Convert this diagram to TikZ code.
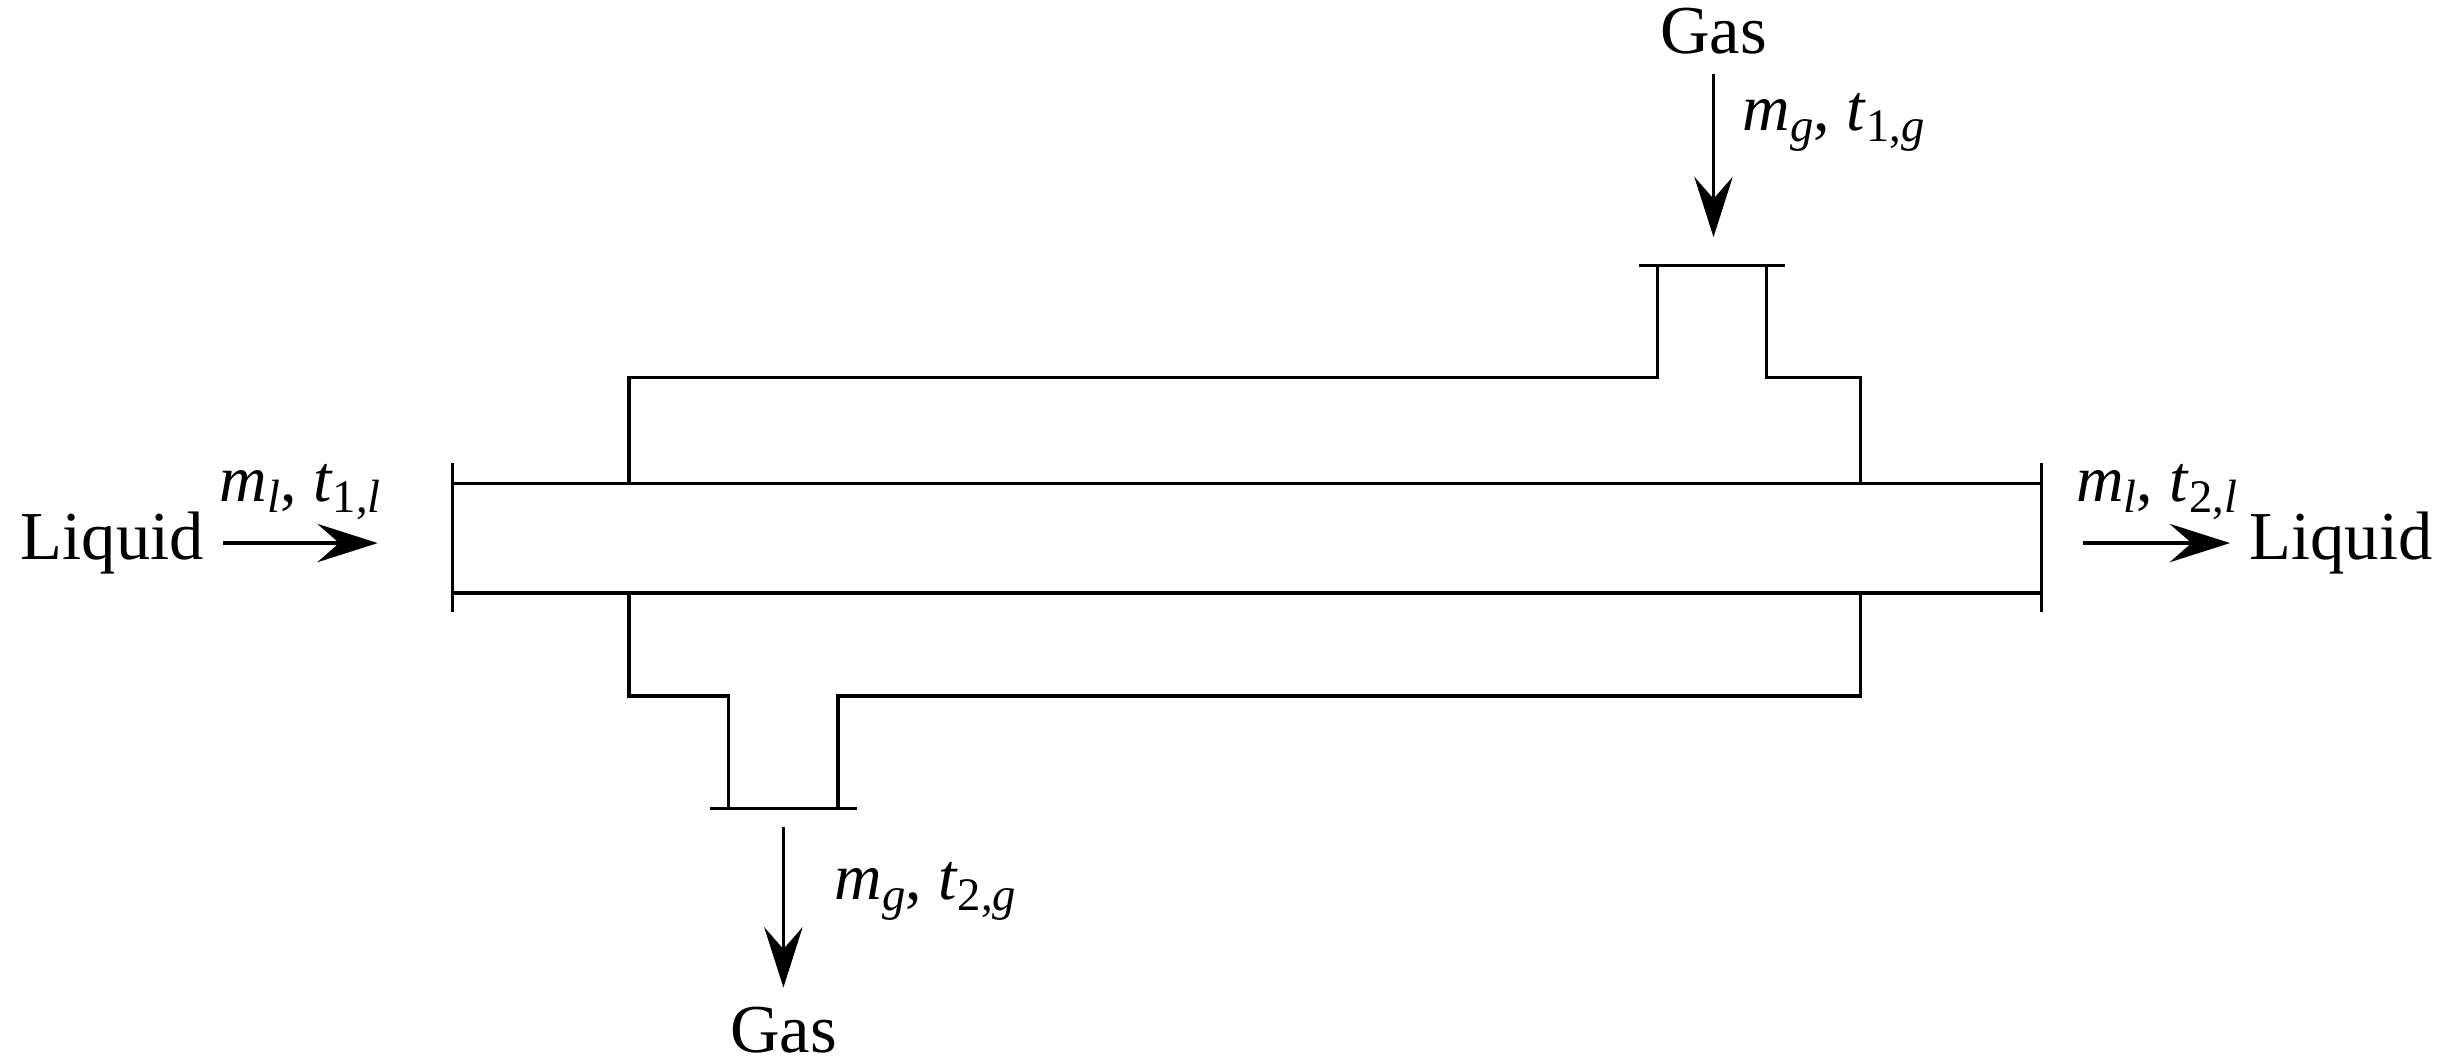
\documentclass[tikz,border=0pt]{standalone}
\usepackage{fontspec}
\setmainfont{Liberation Serif}
\usetikzlibrary{arrows.meta,positioning}
\newcommand{\lowsub}[1]{\raisebox{-0.35ex}{\fontsize{8.5}{10}\selectfont #1}}
\newcommand{\flow}[3]{\textit{#1}\lowsub{\textit{#2}}, \textit{t}\lowsub{#3}}
\tikzset{
	every node/.style={font=\fontsize{12.5}{14}\selectfont},
	label text/.style={font=\fontsize{12}{14}\selectfont, inner sep=1pt},
	wall/.style={line width=0.6pt},
	stream/.style={-{Stealth[length=11pt,width=7pt,inset=4pt]},line width=0.6pt}
}
\begin{document}
\begin{tikzpicture}[x=0.01cm,y=-0.01cm]
	\useasboundingbox (0,0) rectangle (1568,680);
	% inner tube with end caps
	\draw[wall] (290,310) -- (1308,310) (290,380) -- (1308,380);
	\draw[wall] (290,297) -- (290,392) (1308,297) -- (1308,392);
	% shell with nozzles
	\draw[wall] (403,310) -- (403,242) -- (1062,242) -- (1062,170)
		(1132,170) -- (1132,242) -- (1192,242) -- (1192,310);
	\draw[wall] (1050,170) -- (1144,170);
	\draw[wall] (403,380) -- (403,446) -- (467,446) -- (467,518)
		(537,518) -- (537,446) -- (1192,446) -- (1192,380);
	\draw[wall] (455,518) -- (549,518);
	% streams
	\node (gasin) at (1098,20) {Gas};
	\coordinate (gasinend) at (1098,152);
	\draw[stream] (gasin) -- (gasinend) node[label text,pos=0.3,right=4pt] {\flow{m}{g}{1,\textit{g}}};
	\coordinate (gasoutstart) at (502,530);
	\node (gasout) at (502,660) {Gas};
	\draw[stream] (gasoutstart) -- (gasout) node[label text,pos=0.4,right=8pt] {\flow{m}{g}{2,\textit{g}}};
	\node (liqin) at (72,348) {Liquid};
	\coordinate (liqinend) at (242,348);
	\draw[stream] (liqin) -- (liqinend) node[label text,midway,above=3pt] {\flow{m}{l}{1,\textit{l}}};
	\coordinate (liqoutstart) at (1335,348);
	\node (liqout) at (1500,348) {Liquid};
	\draw[stream] (liqoutstart) -- (liqout) node[label text,midway,above=3pt] {\flow{m}{l}{2,\textit{l}}};
\end{tikzpicture}
\end{document}
